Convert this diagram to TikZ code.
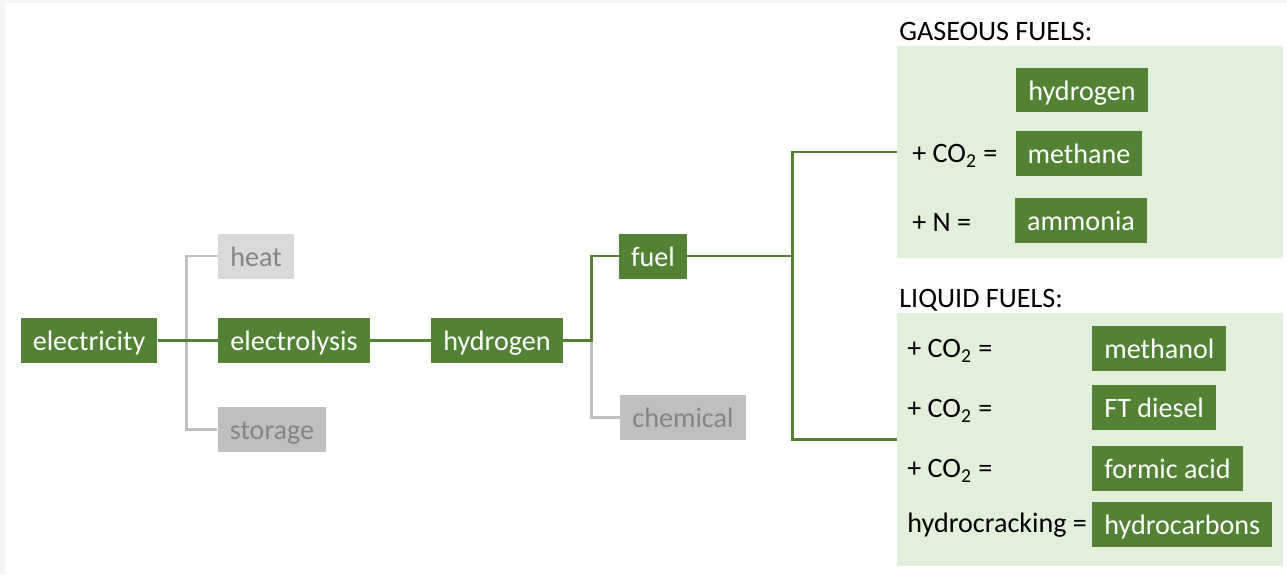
\documentclass[tikz,border=0pt]{standalone}
\usepackage{fontspec}
\setmainfont{Carlito}
\definecolor{leaf}{HTML}{548235}
\definecolor{mint}{HTML}{E2EFDA}
\definecolor{ash}{HTML}{BFBFBF}
\definecolor{pale}{HTML}{D9D9D9}
\definecolor{dim}{HTML}{858585}
\definecolor{frame}{HTML}{F6F5F3}
\begin{document}
\begin{tikzpicture}[x=0.02cm,y=-0.02cm,
   every node/.style={font=\fontsize{16}{19}\selectfont},
   stage/.style={fill=leaf,text=white,minimum height=0.9cm,inner xsep=0.24cm,
      text height=14.5pt,text depth=2pt},
   offstage/.style={stage,fill=ash,text=dim},
   faint/.style={stage,fill=pale,text=dim},
   panel/.style={fill=mint,minimum width=7.72cm,inner sep=0pt},
   recipe/.style={anchor=west,inner sep=0pt},
   leafline/.style={draw=leaf,line width=1.7pt},
   ashline/.style={draw=ash,line width=1.7pt}]
   \useasboundingbox (0,0) rectangle (1287,575);
   \fill[frame] (0,0) rectangle (1287,575);
   \fill[white] (5,3) rectangle (1287,575);
   % chain
   \node[stage] (electricity) at (89,340) {electricity};
   \node[stage] (electrolysis) at (294,340) {electrolysis};
   \node[faint] (heat) at (256,256) {heat};
   \node[offstage] (storage) at (272,429) {storage};
   \node[stage] (hydrogen) at (497,340) {hydrogen};
   \node[stage] (fuel) at (653,256) {fuel};
   \node[offstage] (chemical) at (683,417) {chemical};
   % fuel panels
   \node[panel,minimum height=4.24cm] (gasbox) at (1090,152) {};
   \node[panel,minimum height=5.06cm] (liqbox) at (1090,439.5) {};
   \node[recipe] (gastitle) at (899,31) {GASEOUS FUELS:};
   \node[recipe] (liqtitle) at (899,300) {LIQUID FUELS:};
   \node[stage] (gh2) at (1082,90) {hydrogen};
   \node[stage] (gch4) at (1079,153) {methane};
   \node[stage] (gnh3) at (1081,220) {ammonia};
   \node[recipe] (gco2) at (912,156) {+ CO\textsubscript{2} =};
   \node[recipe] (gn) at (912,222) {+ N =};
   \node[stage,anchor=west] (lmeoh) at (1092,348) {methanol};
   \node[stage,anchor=west] (lft) at (1092,407) {FT diesel};
   \node[stage,anchor=west] (lfa) at (1092,468) {formic acid};
   \node[stage,anchor=west] (lhc) at (1092,524) {hydrocarbons};
   \node[recipe] (lco2a) at (907,351) {+ CO\textsubscript{2} =};
   \node[recipe] (lco2b) at (907,411) {+ CO\textsubscript{2} =};
   \node[recipe] (lco2c) at (907,471) {+ CO\textsubscript{2} =};
   \node[recipe] (lcrack) at (907,525) {hydrocracking =};
   % connectors
   \draw[ashline] (heat.west) -- ++(-31,0) |- (storage.west);
   \draw[ashline] (hydrogen.east) ++(28,0) |- (chemical.west);
   \draw[leafline] (electricity) -- (electrolysis);
   \draw[leafline] (electrolysis) -- (hydrogen);
   \draw[leafline] (hydrogen.east) -- ++(28,0) |- (fuel.west);
   \draw[leafline] (fuel.east) -- ++(105,0) coordinate (fork);
   \draw[leafline] (gasbox.west) -| (fork) |- (liqbox.west);
\end{tikzpicture}
\end{document}
